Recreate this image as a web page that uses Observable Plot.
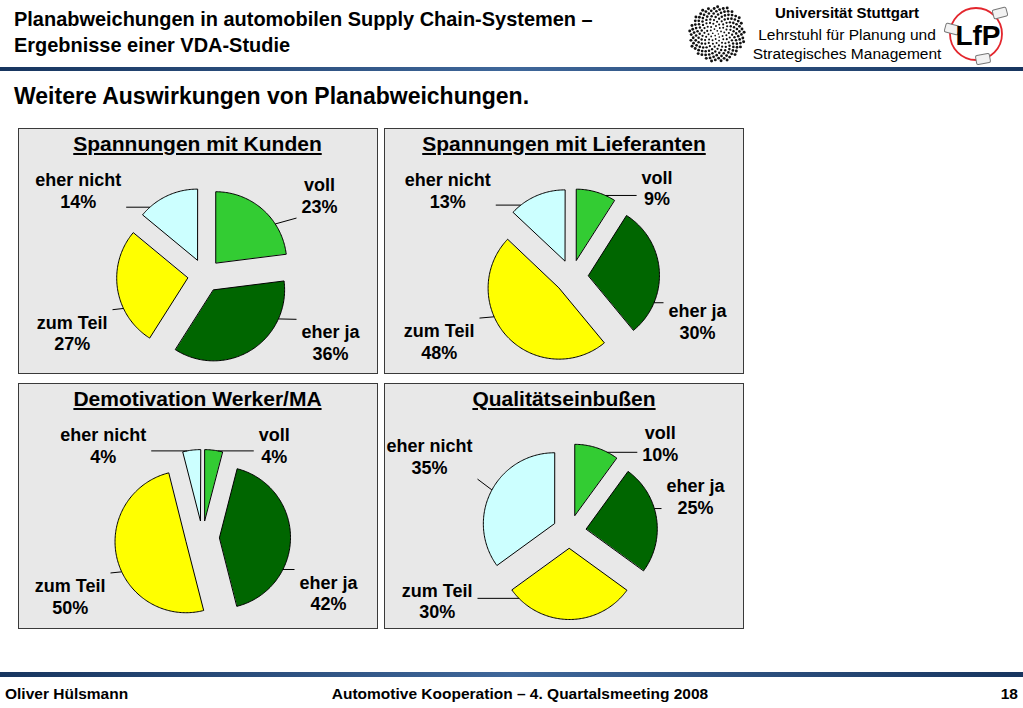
<!DOCTYPE html>
<html><head><meta charset="utf-8">
<script src="https://cdn.jsdelivr.net/npm/d3@7"></script>
<script src="https://cdn.jsdelivr.net/npm/@observablehq/plot@0.6"></script>
<style>
body{margin:0;background:#fff;font-family:"Liberation Sans",Arial,sans-serif;color:#000;}
#slide{position:relative;width:1023px;height:708px;overflow:hidden;background:#fff;}
.abs{position:absolute;white-space:nowrap;}
.panel{position:absolute;box-sizing:border-box;background:#e8e8e8;border:1.5px solid #3a3a3a;}
.ptitle{position:absolute;left:0;right:0;top:3px;text-align:center;font-weight:bold;font-size:21px;line-height:24px;text-decoration:underline;text-decoration-thickness:1.5px;text-underline-offset:2px;}
.bar{position:absolute;left:0;width:1023px;background:linear-gradient(to right,#17355f,#3f679a 50%,#17355f);}
</style></head>
<body><div id="slide"></div>
<script>
// ---- data ----
const categories = ["voll", "eher ja", "zum Teil", "eher nicht"];
const sliceColors = ["#33cc33", "#006600", "#ffff00", "#ccffff"];
const chartTitles = ["Spannungen mit Kunden", "Spannungen mit Lieferanten", "Demotivation Werker/MA", "Qualitätseinbußen"];
const kundenValues = [23, 36, 27, 14];
const lieferantenValues = [9, 30, 48, 13];
const demotivationValues = [4, 42, 50, 4];
const qualitaetValues = [10, 25, 30, 35];
const seriesValues = [kundenValues, lieferantenValues, demotivationValues, qualitaetValues];

// ---- layout ----
const slide = document.getElementById("slide");
function addText(txt, css) {
  const d = document.createElement("div");
  d.className = "abs"; d.textContent = txt;
  Object.assign(d.style, css);
  slide.appendChild(d);
  return d;
}
addText("Planabweichungen in automobilen Supply Chain-Systemen –", {left:"14px", top:"6px", fontSize:"21px", lineHeight:"26px", fontWeight:"bold", transform:"scaleX(0.95)", transformOrigin:"left"});
addText("Ergebnisse einer VDA-Studie", {left:"14px", top:"32px", fontSize:"21px", lineHeight:"26px", fontWeight:"bold", transform:"scaleX(0.95)", transformOrigin:"left"});
addText("Weitere Auswirkungen von Planabweichungen.", {left:"14px", top:"83px", fontSize:"23px", lineHeight:"26px", fontWeight:"bold"});
addText("Universität Stuttgart", {left:"747px", width:"200px", textAlign:"center", top:"4px", fontSize:"15px", lineHeight:"18px", fontWeight:"bold"});
addText("Lehrstuhl für Planung und", {left:"747px", width:"200px", textAlign:"center", top:"26px", fontSize:"15.5px", lineHeight:"18px"});
addText("Strategisches Management", {left:"747px", width:"200px", textAlign:"center", top:"45px", fontSize:"15.5px", lineHeight:"18px"});
const topBar = document.createElement("div"); topBar.className = "bar";
Object.assign(topBar.style, {top:"67px", height:"4px"}); slide.appendChild(topBar);
const botBar = document.createElement("div"); botBar.className = "bar";
Object.assign(botBar.style, {top:"672px", height:"5px"}); slide.appendChild(botBar);
addText("Oliver Hülsmann", {left:"5px", top:"685px", fontSize:"15.5px", lineHeight:"18px", fontWeight:"bold"});
addText("Automotive Kooperation – 4. Quartalsmeeting 2008", {left:"320px", width:"400px", textAlign:"center", top:"685px", fontSize:"15.5px", lineHeight:"18px", fontWeight:"bold"});
addText("18", {left:"990px", width:"28px", textAlign:"right", top:"685px", fontSize:"15.5px", lineHeight:"18px", fontWeight:"bold"});

// University logo (sunflower dots)
{
  const svg = d3.select(slide).append("svg").attr("width", 62).attr("height", 62)
    .style("position","absolute").style("left","686px").style("top","3px");
  const N = 190, Rm = 28;
  const g = svg.append("g").attr("transform","translate(31,31)");
  for (let i = 0; i < N; i++) {
    const r = Rm * Math.sqrt((i + 0.5) / N), th = i * 2.39996;
    g.append("circle").attr("cx", r*Math.cos(th)).attr("cy", r*Math.sin(th)).attr("r", 0.75 + 0.75*r/Rm).attr("fill","#111");
  }
}
// LfP logo
{
  const svg = d3.select(slide).append("svg").attr("width", 79).attr("height", 70)
    .style("position","absolute").style("left","944px").style("top","0px");
  svg.append("circle").attr("cx",32).attr("cy",34).attr("r",26).attr("fill","none").attr("stroke","#e3262d").attr("stroke-width",1.8);
  [[56,13,-15],[8,29,15],[39,59,-10]].forEach(([x,y,a]) => {
    svg.append("rect").attr("x",-7).attr("y",-4.5).attr("width",14).attr("height",9).attr("rx",1.5)
      .attr("fill","#f2f2f2").attr("stroke","#777").attr("stroke-width",1)
      .attr("transform",`translate(${x},${y}) rotate(${a})`);
  });
  svg.append("text").attr("x",34).attr("y",35).attr("text-anchor","middle").attr("dominant-baseline","central")
    .attr("font-family","Liberation Sans, Arial, sans-serif").attr("font-weight","bold").attr("font-size",28).text("LfP");
}

// ---- pies ----
const panelLayout = [
  {left:17.5, top:128, cx:186, cy:147},
  {left:384, top:128, cx:187, cy:148},
  {left:17.5, top:382.5, cx:184, cy:154},
  {left:384, top:382.5, cx:185, cy:148}
];
const PW = 360, PH = 246, R = 71, E = 17;
const ctx = document.createElement("canvas").getContext("2d");
ctx.font = "bold 18px 'Liberation Sans'";
const clamp = (v, a, b) => Math.max(a, Math.min(b, v));
const TAU = 2 * Math.PI;
const angDist = (a, b) => { const d = Math.abs(((a - b) % TAU + TAU) % TAU); return Math.min(d, TAU - d); };

seriesValues.forEach((values, p) => {
  const L = panelLayout[p];
  const panel = document.createElement("div"); panel.className = "panel";
  Object.assign(panel.style, {left: L.left + "px", top: L.top + "px", width: PW + "px", height: PH + "px"});
  const t = document.createElement("div"); t.className = "ptitle"; t.textContent = chartTitles[p];
  panel.appendChild(t);
  slide.appendChild(panel);

  const arcs = d3.pie().sort(null)(values);
  const slicePts = [], labels = [], leaders = [];
  arcs.forEach((a, i) => {
    const m = (a.startAngle + a.endAngle) / 2;
    const ox = E * Math.sin(m), oy = E * Math.cos(m);
    const span = a.endAngle - a.startAngle;
    const n = Math.max(2, Math.ceil(span / 0.02));
    slicePts.push({cat: categories[i], color: sliceColors[i], x: ox, y: oy});
    for (let k = 0; k <= n; k++) {
      const tt = a.startAngle + span * k / n;
      slicePts.push({cat: categories[i], color: sliceColors[i], x: ox + R * Math.sin(tt), y: oy + R * Math.cos(tt)});
    }
    const s = Math.sin(m), c = -Math.cos(m);
    const side = s > 0.05 ? 1 : -1;
    const text = `${categories[i]}\n${values[i]}%`;
    const hw = Math.max(...text.split("\n").map(l => ctx.measureText(l).width)) / 2;
    const hh = 21;
    const near = c > -0.3 ? 97 : Math.min(97, 45 + 90 * Math.abs(s));
    const lx = side * (near + hw);
    const ly = -clamp(850 * (c + 0.115), -(95 - 22 * Math.abs(s)), 55 + 14 * Math.max(0, c));
    labels.push({x: lx, y: ly, text});
    // leader line from the slice arc towards the label box
    let tl = ((Math.atan2(lx - ox, ly - oy) % TAU) + TAU) % TAU;
    const inset = Math.min(0.15, span * 0.25);
    const lo = a.startAngle + inset, hi = a.endAngle - inset;
    if (!(tl >= lo && tl <= hi)) tl = angDist(tl, lo) < angDist(tl, hi) ? lo : hi;
    const sx = ox + R * Math.sin(tl), sy = oy + R * Math.cos(tl);
    const ex = clamp(sx, lx - hw - 5, lx + hw + 5), ey = clamp(sy, ly - hh - 2, ly + hh + 2);
    leaders.push({x1: sx, y1: sy, x2: ex, y2: ey});
  });

  const svg = Plot.plot({
    width: PW, height: PH, margin: 0,
    x: {domain: [-L.cx, PW - L.cx], axis: null},
    y: {domain: [-(PH - L.cy), L.cy], axis: null},
    color: {type: "identity"},
    style: {background: "transparent", overflow: "visible"},
    marks: [
      Plot.line(slicePts, {x: "x", y: "y", z: "cat", fill: "color", stroke: "#000", strokeWidth: 1, curve: "linear-closed"}),
      Plot.link(leaders, {x1: "x1", y1: "y1", x2: "x2", y2: "y2", stroke: "#000", strokeWidth: 1}),
      Plot.text(labels, {x: "x", y: "y", text: "text", fontSize: 18, fontWeight: "bold", lineAnchor: "middle", lineHeight: 1.2, fill: "#000", fontFamily: "Liberation Sans, Arial, sans-serif"})
    ]
  });
  svg.style.position = "absolute";
  svg.style.left = L.left + "px";
  svg.style.top = L.top + "px";
  slide.appendChild(svg);
});
</script>
</body></html>
